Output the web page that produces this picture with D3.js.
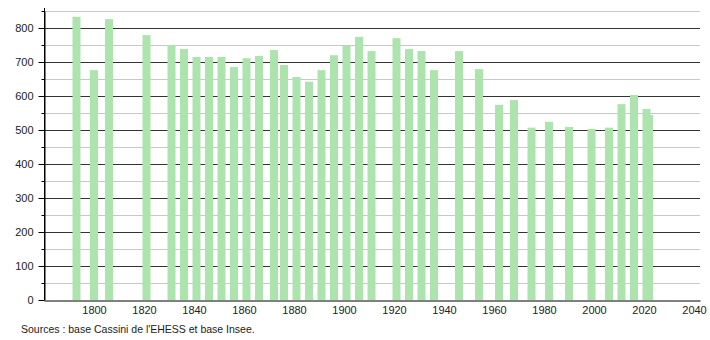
<!DOCTYPE html>
<html>
<head>
<meta charset="utf-8">
<script src="https://cdn.jsdelivr.net/npm/d3@7"></script>
<style>
  body { margin: 0; background: #fff; }
  text { font-family: "Liberation Sans", Arial, sans-serif; }
</style>
</head>
<body>
<svg width="710" height="340"></svg>
<script>
const years = [1793, 1800, 1806, 1821, 1831, 1836, 1841, 1846, 1851, 1856,
    1861, 1866, 1872, 1876, 1881, 1886, 1891, 1896, 1901, 1906, 1911,
    1921, 1926, 1931, 1936, 1946, 1954, 1962, 1968, 1975, 1982, 1990,
    1999, 2006, 2011, 2016, 2021, 2022];
const population = [833, 676, 826, 779, 750, 738, 715, 715, 715, 685,
    711, 718, 735, 691, 656, 642, 676, 720, 748, 774, 732,
    770, 738, 732, 676, 732, 679, 574, 588, 507, 524, 509,
    503, 507, 576, 603, 562, 544];
const yearTicks = [1800, 1820, 1840, 1860, 1880, 1900, 1920, 1940, 1960, 1980, 2000, 2020, 2040];
const popTicks = [0, 100, 200, 300, 400, 500, 600, 700, 800];
const popMinor = [50, 150, 250, 350, 450, 550, 650, 750, 850];
const source = "Sources : base Cassini de l'EHESS et base Insee.";

const MARGIN = { left: 44, right: 10, top: 11, bottom: 40 };
const WIDTH = 710, HEIGHT = 340;
const BAR_W = 8;

const x = d3.scaleLinear().domain([1780, 2042.4]).range([MARGIN.left, WIDTH - MARGIN.right]);
const y = d3.scaleLinear().domain([0, 850]).range([HEIGHT - MARGIN.bottom, MARGIN.top]);

const svg = d3.select('svg');

// grid lines
svg.append('g')
    .selectAll('line')
    .data(popMinor)
    .join('line')
    .attr('x1', MARGIN.left).attr('x2', WIDTH - MARGIN.right)
    .attr('y1', d => Math.round(y(d)) + 0.5).attr('y2', d => Math.round(y(d)) + 0.5)
    .attr('stroke', '#c8c8c8');

svg.append('g')
    .selectAll('line')
    .data(popTicks.slice(1))
    .join('line')
    .attr('x1', MARGIN.left).attr('x2', WIDTH - MARGIN.right)
    .attr('y1', d => Math.round(y(d)) + 0.5).attr('y2', d => Math.round(y(d)) + 0.5)
    .attr('stroke', '#333');

// bars
svg.append('g')
    .selectAll('rect')
    .data(years)
    .join('rect')
    .attr('x', (d) => x(d) - BAR_W / 2)
    .attr('width', BAR_W)
    .attr('y', (d, i) => y(population[i]))
    .attr('height', (d, i) => y(0) - y(population[i]))
    .attr('fill', '#ade3ad');

// y axis
const yAxis = svg.append('g')
    .attr('transform', `translate(${MARGIN.left + 0.5},0)`)
    .call(d3.axisLeft(y).tickValues(popTicks).tickSize(6).tickPadding(5).tickSizeOuter(0))
    .call(g => g.select('.domain').attr('stroke', '#000'));
yAxis.selectAll('.tick line').attr('stroke', '#000');
yAxis.selectAll('text').attr('font-size', 11).attr('fill', '#222');

svg.append('g')
    .attr('transform', `translate(${MARGIN.left + 0.5},0)`)
    .selectAll('line')
    .data(popMinor)
    .join('line')
    .attr('x1', -3).attr('x2', 0)
    .attr('y1', d => Math.round(y(d)) + 0.5).attr('y2', d => Math.round(y(d)) + 0.5)
    .attr('stroke', '#000');

svg.append('line')
    .attr('x1', MARGIN.left + 0.5).attr('x2', MARGIN.left + 0.5)
    .attr('y1', MARGIN.top - 3).attr('y2', y(0))
    .attr('stroke', '#000');

// x axis
const xAxis = svg.append('g')
    .attr('transform', `translate(0,${Math.round(y(0)) + 0.5})`)
    .call(d3.axisBottom(x).tickValues(yearTicks).tickFormat(d3.format('d')).tickSize(0).tickPadding(6).tickSizeOuter(0));
xAxis.select('.domain').attr('stroke', '#000');
xAxis.selectAll('text').attr('font-size', 11).attr('fill', '#222');

svg.append('text')
    .attr('x', 21)
    .attr('y', 333)
    .attr('font-size', 10.5)
    .attr('fill', '#222')
    .text(source);
</script>
</body>
</html>
